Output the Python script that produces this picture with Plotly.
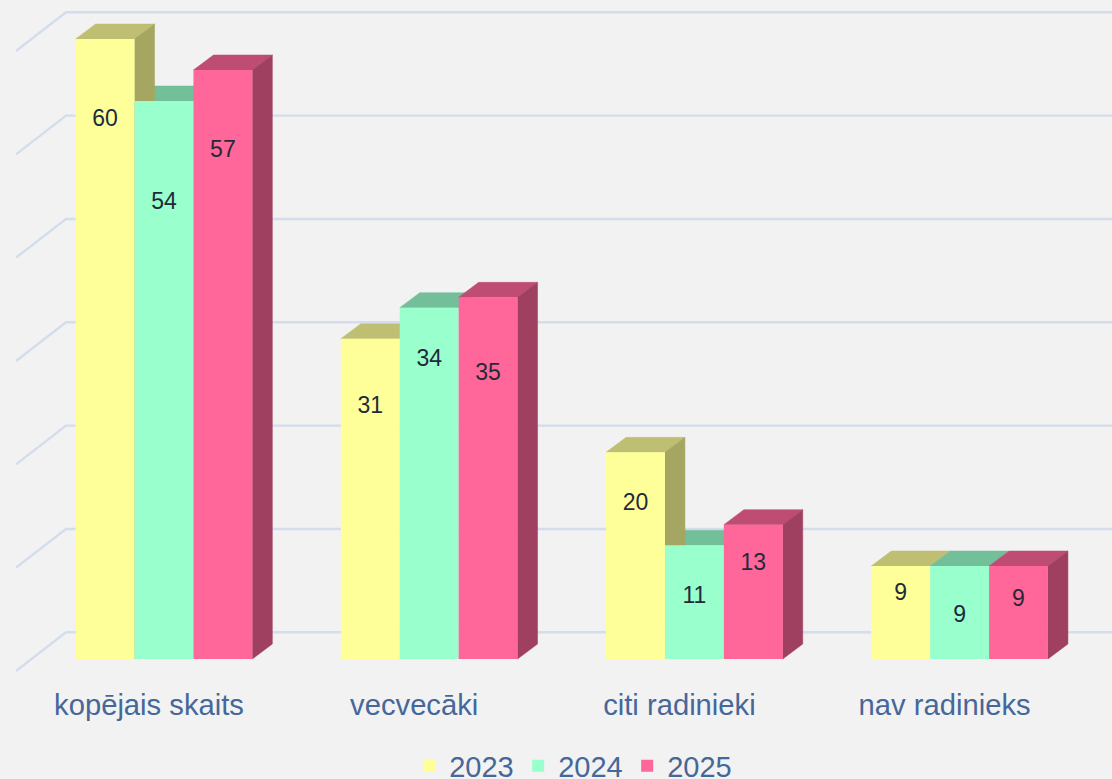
import plotly.graph_objects as go

categories = ["kopējais skaits", "vecvecāki", "citi radinieki", "nav radinieks"]
series_names = ["2023", "2024", "2025"]
values_2023 = [60, 31, 20, 9]
values_2024 = [54, 34, 11, 9]
values_2025 = [57, 35, 13, 9]
# heights (in value units) at which the reference places each value label
label_h_2023 = [52.15, 24.35, 14.95, 6.25]
label_h_2024 = [44.15, 28.95, 5.95, 4.15]
label_h_2025 = [49.15, 27.55, 9.15, 5.65]
grid_values = [0, 10, 20, 30, 40, 50, 60]

front_colors = ["#FFFF99", "#99FFCC", "#FF6699"]
top_colors = ["#BFBF73", "#73BF99", "#BF4D73"]
side_colors = ["#A6A663", "#63A685", "#A04060"]
text_color = "#45679A"
grid_color = "#D3DDEB"
bg = "#F2F2F2"

all_values = [values_2023, values_2024, values_2025]
all_labels = [label_h_2023, label_h_2024, label_h_2025]

W, H = 1112, 779
PX_X = 265.2          # pixels per category
PX_Y = 620 / 60       # pixels per value unit
X0 = 164.0            # pixel of first category
BASE = 659            # pixel of value zero
BAR = 58.9 / PX_X
DX, DY = 20 / PX_X, 15 / PX_Y                 # bar depth
WALL_DX, WALL_DY = 50 / PX_X, 26.7 / PX_Y     # wall offset of the grid
FLOOR_DY = 12 / PX_Y                          # grid front edge below baseline

x_range = [-X0 / PX_X, (W - X0) / PX_X]
y_range = [-(H - BASE) / PX_Y, BASE / PX_Y]
x_idx = list(range(len(categories)))

fig = go.Figure()

# grid on back wall with its diagonal returns
gx, gy = [], []
left = (16 - X0) / PX_X
for g in grid_values:
    gx += [left, left + WALL_DX, x_range[1], None]
    gy += [g - FLOOR_DY, g + WALL_DY, g + WALL_DY, None]
fig.add_trace(go.Scatter(x=gx, y=gy, mode="lines", showlegend=False, hoverinfo="skip",
                         line=dict(color=grid_color, width=2.4)))

# top faces, left series first
for s in range(3):
    for i, v in zip(x_idx, all_values[s]):
        l = i + (s - 1.5) * BAR
        r = l + BAR
        fig.add_trace(go.Scatter(
            x=[l, l + DX, r + DX, r, l], y=[v, v + DY, v + DY, v, v], mode="lines", fill="toself",
            fillcolor=top_colors[s], line=dict(color=top_colors[s], width=0.5),
            showlegend=False, hoverinfo="skip"))

# side faces, only where not hidden by the next bar
for s in range(3):
    for i, v in zip(x_idx, all_values[s]):
        if s < 2 and v <= all_values[s + 1][i]:
            continue
        r = i + (s - 0.5) * BAR
        fig.add_trace(go.Scatter(
            x=[r, r + DX, r + DX, r, r], y=[0, DY, v + DY, v, 0], mode="lines", fill="toself",
            fillcolor=side_colors[s], line=dict(color=side_colors[s], width=0.5),
            showlegend=False, hoverinfo="skip"))

# front faces
for s in range(3):
    fig.add_trace(go.Bar(
        x=x_idx, y=all_values[s], name=series_names[s], width=BAR, offset=(s - 1.5) * BAR,
        marker=dict(color=front_colors[s], line=dict(width=0)),
        xaxis="x2", yaxis="y2"))

# value labels
for s in range(3):
    fig.add_trace(go.Scatter(
        x=[i + (s - 1) * BAR for i in x_idx], y=all_labels[s],
        text=[str(v) for v in all_values[s]], mode="text", textposition="middle center",
        textfont=dict(family="Liberation Sans, Arial", size=23, color="#1F2A3A"),
        showlegend=False, hoverinfo="skip", xaxis="x2", yaxis="y2"))

fig.update_layout(
    width=W, height=H, autosize=False,
    margin=dict(l=0, r=0, t=0, b=0, autoexpand=False),
    paper_bgcolor=bg, plot_bgcolor=bg,
    barmode="overlay",
    font=dict(family="Liberation Sans, Arial", color=text_color),
    xaxis=dict(range=x_range, domain=[0, 1], tickvals=x_idx, ticktext=categories,
               anchor="free", position=(H - BASE) / H,
               showgrid=False, zeroline=False, showline=False, ticks="",
               ticklabelshift=-15, ticklabelstandoff=26,
               tickfont=dict(size=29.2, color=text_color)),
    yaxis=dict(range=y_range, domain=[0, 1], visible=False),
    xaxis2=dict(range=x_range, overlaying="x", anchor="y2", visible=False),
    yaxis2=dict(range=y_range, domain=[0, 1], overlaying="y", anchor="x2", visible=False),
    legend=dict(orientation="h", x=0.515, xanchor="center", y=-0.016, yanchor="bottom",
                entrywidth=64, entrywidthmode="pixels", itemwidth=30,
                traceorder="normal", bgcolor="rgba(0,0,0,0)",
                font=dict(size=29, color=text_color)),
)

fig.write_html("out.html", config=dict(displayModeBar=False),
               post_script="document.body.style.margin='0';document.body.style.overflow='hidden';")
